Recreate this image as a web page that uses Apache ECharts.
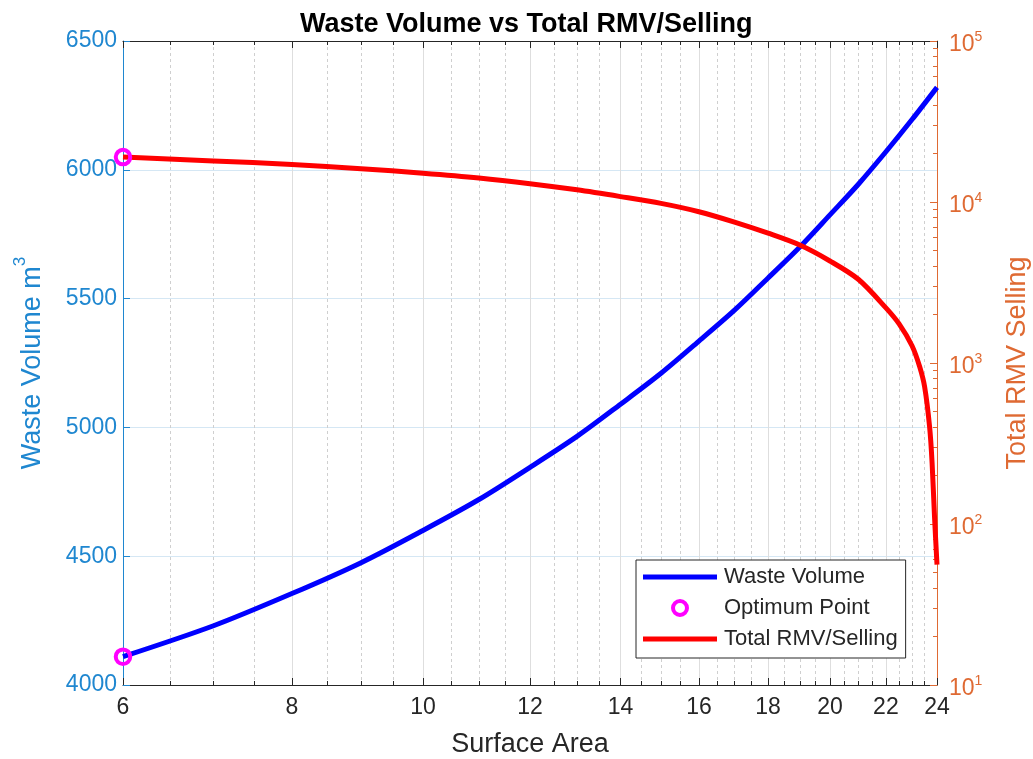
<!DOCTYPE html>
<html>
<head>
<meta charset="utf-8">
<script src="https://cdn.jsdelivr.net/npm/echarts@6/dist/echarts.min.js"></script>
<style>
  html, body { margin: 0; padding: 0; background: #ffffff; }
  #chart { width: 1033px; height: 759px; }
</style>
</head>
<body>
<div id="chart"></div>
<script>
// Waste volume (m^3) sampled at each surface area
const surfaceArea = [6, 7, 8, 9, 10, 11, 12, 13, 14, 15, 16, 17, 18, 19, 20, 21, 22, 23, 24];
const wasteVolume = [4110, 4230, 4355, 4475, 4600, 4720, 4845, 4965, 5090, 5210, 5335, 5455, 5580, 5700, 5825, 5945, 6070, 6195, 6320];

// Total RMV/Selling sampled at each surface area (denser near the drop-off)
const rmvArea = [6, 7, 8, 9, 10, 11, 12, 13, 14, 15, 16, 17, 18, 19, 20, 21, 22, 22.5, 23, 23.3, 23.5, 23.7, 23.8, 23.9, 24];
const rmvTotal = [19000, 18000, 17100, 16100, 15100, 14100, 13000, 11900, 10800, 9800, 8700, 7500, 6400, 5400, 4300, 3300, 2200, 1750, 1280, 950, 710, 400, 240, 110, 56];

// Optimum point
const optimumArea = 6;
const optimumVolume = 4110;
const optimumRmv = 19000;

// Tick values
const areaTicks = [6, 8, 10, 12, 14, 16, 18, 20, 22, 24];
const areaMinorTicks = [6.5, 7, 7.5, 8.5, 9, 9.5, 10.5, 11, 11.5, 12.5, 13, 13.5, 14.5, 15, 15.5,
  16.5, 17, 17.5, 18.5, 19, 19.5, 20.5, 21, 21.5, 22.5, 23, 23.5];
const volumeTicks = [4000, 4500, 5000, 5500, 6000, 6500];
const rmvExponents = [1, 2, 3, 4, 5];
const rmvMantissas = [2, 3, 4, 5, 6, 7, 8, 9];

// Both the area axis and the RMV axis are logarithmic: values are plotted as log10
const lg = Math.log10;
const FONT = '"Liberation Sans", Arial, Helvetica, sans-serif';
const AX = '#262626';
const LEFT = '#1f87d0';
const RIGHT = '#df6a33';

const rmvMinor = [];
rmvExponents.slice(0, -1).forEach(e => rmvMantissas.forEach(m => rmvMinor.push(lg(m * Math.pow(10, e)))));

const xMin = lg(areaTicks[0]);
const xMax = lg(areaTicks[areaTicks.length - 1]);

function areaAxis(position, ticks, tickLen, withLine, withLabels, split) {
  return {
    type: 'value', position: position, min: xMin, max: xMax,
    axisLine: { show: withLine, onZero: false, lineStyle: { color: AX, width: 1 } },
    axisTick: { show: true, inside: true, length: tickLen, customValues: ticks.map(lg), lineStyle: { color: AX, width: 1 } },
    axisLabel: withLabels ? {
      show: true, customValues: ticks.map(lg), showMinLabel: true, showMaxLabel: true, hideOverlap: false,
      formatter: v => String(Math.round(Math.pow(10, v))),
      fontFamily: FONT, fontSize: 23, color: AX, margin: 11
    } : { show: false },
    splitLine: split || { show: false }
  };
}

const xAxes = [
  Object.assign(areaAxis('bottom', areaTicks, 7, true, true, { show: true, lineStyle: { color: '#dedede', width: 1 } }), {
    name: 'Surface Area', nameLocation: 'middle', nameGap: 46,
    nameTextStyle: { fontFamily: FONT, fontSize: 27, color: AX }
  }),
  areaAxis('top', areaTicks, 7, true, false, null),
  areaAxis('bottom', areaMinorTicks, 4, false, false, { show: true, lineStyle: { color: '#cfcfcf', width: 1, type: [3, 3] } }),
  areaAxis('top', areaMinorTicks, 4, false, false, null)
];

const yAxes = [
  {
    type: 'value', position: 'left', min: volumeTicks[0], max: volumeTicks[volumeTicks.length - 1],
    interval: volumeTicks[1] - volumeTicks[0],
    axisLine: { show: true, lineStyle: { color: LEFT, width: 1 } },
    axisTick: { show: true, inside: true, length: 7, lineStyle: { color: LEFT } },
    axisLabel: { fontFamily: FONT, fontSize: 23, color: LEFT, margin: 6, formatter: v => String(v) },
    splitLine: { show: true, lineStyle: { color: '#d5e7f4', width: 1 } },
    name: 'Waste Volume m{sup|3}', nameLocation: 'middle', nameRotate: 90, nameGap: 70,
    nameTextStyle: {
      fontFamily: FONT, fontSize: 27, color: LEFT, lineHeight: 41,
      rich: { sup: { fontFamily: FONT, fontSize: 17, lineHeight: 17, verticalAlign: 'top', color: LEFT } }
    }
  },
  {
    type: 'value', position: 'right', min: rmvExponents[0], max: rmvExponents[rmvExponents.length - 1], interval: 1,
    axisLine: { show: true, lineStyle: { color: RIGHT, width: 1 } },
    axisTick: { show: true, inside: true, length: 7, lineStyle: { color: RIGHT } },
    axisLabel: {
      margin: 12, padding: [8, 0, 0, 0],
      formatter: v => '{b|10}{sup|' + Math.round(v) + '}',
      rich: {
        b: { fontFamily: FONT, fontSize: 23, lineHeight: 30, color: RIGHT },
        sup: { fontFamily: FONT, fontSize: 14, lineHeight: 14, verticalAlign: 'top', color: RIGHT }
      }
    },
    splitLine: { show: false },
    name: 'Total RMV Selling', nameLocation: 'middle', nameRotate: 90, nameGap: 67,
    nameTextStyle: { fontFamily: FONT, fontSize: 27, color: RIGHT }
  },
  {
    type: 'value', position: 'right', min: rmvExponents[0], max: rmvExponents[rmvExponents.length - 1],
    axisLine: { show: false },
    axisTick: { show: true, inside: true, length: 4, customValues: rmvMinor, lineStyle: { color: RIGHT } },
    axisLabel: { show: false },
    splitLine: { show: false }
  }
];

// Legend line swatch: a bar in the middle of a 74x14 box (corner specks fix the bounds)
const LINE_ICON = 'path://M0,0L0.01,0L0,0.01Z M0,4.5L74,4.5L74,9.5L0,9.5Z M74,14L73.99,14L74,13.99Z';

const chart = echarts.init(document.getElementById('chart'), null, { renderer: 'canvas' });
chart.setOption({
  animation: false,
  backgroundColor: '#ffffff',
  title: {
    text: 'Waste Volume vs Total RMV/Selling',
    left: 295, top: 6,
    textStyle: { fontFamily: FONT, fontSize: 27, fontWeight: 'bold', color: '#000000' }
  },
  grid: { left: 123, right: 96, top: 41, bottom: 74, containLabel: false, outerBoundsMode: 'none' },
  xAxis: xAxes,
  yAxis: yAxes,
  legend: {
    orient: 'vertical', left: 636, top: 560,
    padding: [6, 8, 8, 7], itemGap: 9, itemWidth: 74, itemHeight: 14,
    backgroundColor: '#ffffff', borderColor: AX, borderWidth: 1, borderRadius: 0,
    textStyle: { fontFamily: FONT, fontSize: 22, color: AX, padding: [0, 0, 0, 2] },
    selectedMode: false,
    data: [
      { name: 'Waste Volume', icon: LINE_ICON, itemStyle: { borderWidth: 0 } },
      { name: 'Optimum Point', icon: 'circle', itemStyle: { borderWidth: 4, borderColor: '#ff00ff', color: 'rgba(0,0,0,0)' } },
      { name: 'Total RMV/Selling', icon: LINE_ICON, itemStyle: { borderWidth: 0 } }
    ]
  },
  series: [
    {
      name: 'Waste Volume', type: 'line', xAxisIndex: 0, yAxisIndex: 0,
      color: '#0000ff', symbol: 'none', smooth: 0.3,
      lineStyle: { color: '#0000ff', width: 5 },
      data: surfaceArea.map((a, i) => [lg(a), wasteVolume[i]]),
      z: 3
    },
    {
      name: 'Total RMV/Selling', type: 'line', xAxisIndex: 0, yAxisIndex: 1,
      color: '#ff0000', symbol: 'none', smooth: 0.3,
      lineStyle: { color: '#ff0000', width: 5 },
      data: rmvArea.map((a, i) => [lg(a), lg(rmvTotal[i])]),
      z: 4
    },
    {
      name: 'Optimum Point', type: 'scatter', xAxisIndex: 0, yAxisIndex: 0,
      symbol: 'circle', symbolSize: 14.5, clip: false,
      itemStyle: { color: 'rgba(0,0,0,0)', borderColor: '#ff00ff', borderWidth: 4, opacity: 1 },
      data: [[lg(optimumArea), optimumVolume]],
      z: 5
    },
    {
      name: 'Optimum Point', type: 'scatter', xAxisIndex: 0, yAxisIndex: 1,
      symbol: 'circle', symbolSize: 14.5, clip: false,
      itemStyle: { color: 'rgba(0,0,0,0)', borderColor: '#ff00ff', borderWidth: 4, opacity: 1 },
      data: [[lg(optimumArea), lg(optimumRmv)]],
      z: 5
    }
  ]
});
</script>
</body>
</html>
